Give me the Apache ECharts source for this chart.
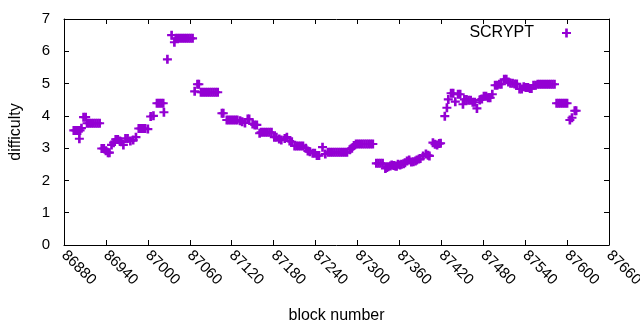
<!DOCTYPE html>
<html>
<head>
<meta charset="utf-8">
<script src="https://cdn.jsdelivr.net/npm/echarts@6/dist/echarts.min.js"></script>
<style>
  body { margin: 0; background: #fff; }
  #chart { width: 640px; height: 330px; }
</style>
</head>
<body>
<div id="chart"></div>
<script>
// block numbers and the difficulty read at each of them
const blocks = [
  86894, 86897, 86900, 86903, 86902, 86905, 86908, 86911,
  86913, 86916, 86919, 86922, 86925, 86928, 86931,
  86934, 86937, 86940, 86943, 86945, 86948, 86951, 86954, 86957,
  86960, 86962, 86965, 86968, 86971, 86975, 86979, 86983,
  86987, 86990, 86993, 86996, 87000, 87004, 87008,
  87013, 87016, 87019, 87022, 87023, 87028, 87034, 87038,
  87040, 87043, 87046, 87049, 87052, 87055, 87058, 87061, 87064,
  87067, 87071, 87073,
  87076, 87079, 87082, 87085, 87088, 87091, 87094, 87097, 87100,
  87106, 87108,
  87113, 87116, 87119, 87122, 87125, 87128, 87132, 87135, 87139,
  87143, 87145, 87150, 87153, 87156, 87160,
  87162, 87165, 87168, 87171, 87174, 87177,
  87181, 87184, 87188, 87191, 87196, 87199, 87203, 87206,
  87210, 87213, 87216, 87219, 87222, 87226, 87229, 87232,
  87236, 87239, 87242, 87245, 87250, 87254,
  87258, 87261, 87264, 87267, 87270, 87273, 87276, 87279, 87282, 87285,
  87289, 87292, 87295,
  87298, 87301, 87304, 87307, 87310, 87313, 87316, 87319, 87322,
  87327, 87330, 87333, 87336,
  87340, 87342, 87344, 87347, 87349, 87352, 87354, 87356, 87358, 87361,
  87363, 87366, 87368, 87371, 87374, 87377, 87380, 87383, 87385, 87388,
  87390, 87394, 87398, 87401, 87403,
  87408, 87411, 87414, 87417, 87419,
  87425, 87428, 87430, 87434, 87437, 87440, 87444, 87447, 87451,
  87453, 87456, 87459, 87462, 87465, 87468, 87471, 87475, 87478,
  87481, 87484, 87487, 87490, 87493,
  87497, 87500, 87503, 87506, 87510, 87513, 87516, 87519, 87522,
  87525, 87528, 87532, 87535, 87538, 87541, 87544, 87547, 87549,
  87552, 87555,
  87558, 87561, 87564, 87567, 87570, 87573, 87576, 87579, 87582,
  87585, 87588, 87591, 87594, 87597, 87600,
  87604, 87607, 87611, 87613
];
const difficulty = [
  3.55, 3.55, 3.55, 3.55, 3.29, 3.62, 3.96, 3.96,
  3.77, 3.77, 3.77, 3.77, 3.77, 3.77, 3.77,
  2.99, 2.99, 2.92, 2.86, 2.86, 3.10, 3.17, 3.27, 3.27,
  3.22, 3.20, 3.10, 3.30, 3.30, 3.22, 3.25, 3.34,
  3.61, 3.61, 3.61, 3.61, 3.59, 3.98, 4.00,
  4.39, 4.39, 4.39, 4.39, 4.11, 5.75, 6.50, 6.28,
  6.40, 6.40, 6.40, 6.40, 6.40, 6.40, 6.40, 6.40, 6.40,
  4.76, 4.98, 4.98,
  4.73, 4.73, 4.73, 4.73, 4.73, 4.73, 4.73, 4.73, 4.73,
  4.08, 4.08,
  3.87, 3.87, 3.87, 3.87, 3.87, 3.87, 3.85, 3.82, 3.78,
  3.90, 3.90, 3.75, 3.72, 3.72, 3.46,
  3.49, 3.49, 3.49, 3.49, 3.49, 3.49,
  3.34, 3.34, 3.28, 3.25, 3.30, 3.34, 3.22, 3.20,
  3.07, 3.07, 3.07, 3.07, 3.07, 3.00, 2.91, 2.89,
  2.84, 2.84, 2.77, 2.77, 3.03, 2.82,
  2.87, 2.87, 2.87, 2.87, 2.87, 2.87, 2.87, 2.87, 2.87, 2.87,
  2.95, 3.00, 3.08,
  3.13, 3.13, 3.13, 3.13, 3.13, 3.13, 3.13, 3.13, 3.13,
  2.53, 2.53, 2.53, 2.53,
  2.37, 2.40, 2.42, 2.45, 2.48, 2.46, 2.45, 2.44, 2.50, 2.48,
  2.50, 2.52, 2.55, 2.60, 2.63, 2.57, 2.58, 2.60, 2.63, 2.66,
  2.68, 2.76, 2.82, 2.78, 2.76,
  3.17, 3.12, 3.10, 3.14, 3.15,
  3.99, 4.25, 4.51, 4.70, 4.70, 4.44, 4.67, 4.67, 4.36,
  4.51, 4.51, 4.48, 4.48, 4.42, 4.42, 4.23, 4.49, 4.52,
  4.61, 4.61, 4.56, 4.56, 4.67,
  4.95, 4.95, 4.98, 4.98, 5.13, 5.13, 5.05, 5.01, 5.01,
  4.99, 4.99, 4.83, 4.83, 4.90, 4.88, 4.88, 4.85, 4.85,
  4.95, 4.95,
  4.98, 4.98, 4.98, 4.98, 4.98, 4.98, 4.98, 4.98, 4.98,
  4.39, 4.39, 4.39, 4.39, 4.39, 4.39,
  3.87, 3.94, 4.16, 4.16
];

const FONT = 'Liberation Sans';
const purple = '#9400d3';
// gnuplot style "+" point
const plus = 'path://M0,6.5H17V10.5H0Z M6,0H11V17H6Z';

const chart = echarts.init(document.getElementById('chart'), null, { renderer: 'canvas' });

const tickStyle = { show: true, inside: true, length: 5, lineStyle: { color: '#000', width: 1 } };

chart.setOption({
  animation: false,
  backgroundColor: '#fff',
  textStyle: { fontFamily: FONT },
  grid: { left: 64, right: 31, top: 19, bottom: 85, outerBoundsMode: 'none' },
  legend: {
    right: 64,
    top: 20,
    align: 'right',
    itemWidth: 9,
    itemHeight: 9,
    textStyle: { fontFamily: FONT, fontSize: 16, color: '#000', padding: [0, 23, 0, 0] },
    data: ['SCRYPT']
  },
  xAxis: [
    {
      type: 'value',
      min: 86880, max: 87660, interval: 60,
      name: 'block number',
      nameLocation: 'middle',
      nameGap: 63,
      nameTextStyle: { fontFamily: FONT, fontSize: 16, color: '#000' },
      axisLine: { show: true, lineStyle: { color: '#000', width: 1 } },
      axisTick: tickStyle,
      splitLine: { show: false },
      axisLabel: {
        rotate: -45, margin: 8, color: '#000', fontFamily: FONT, fontSize: 15,
        formatter: (v) => String(v)
      }
    },
    {
      type: 'value', position: 'top',
      min: 86880, max: 87660, interval: 60,
      axisLine: { show: true, onZero: false, lineStyle: { color: '#000', width: 1 } },
      axisTick: tickStyle,
      splitLine: { show: false },
      axisLabel: { show: false }
    }
  ],
  yAxis: [
    {
      type: 'value',
      min: 0, max: 7, interval: 1,
      name: 'difficulty',
      nameLocation: 'middle',
      nameGap: 40,
      nameTextStyle: { fontFamily: FONT, fontSize: 16, color: '#000' },
      axisLine: { show: true, lineStyle: { color: '#000', width: 1 } },
      axisTick: tickStyle,
      splitLine: { show: false },
      axisLabel: { margin: 14, color: '#000', fontFamily: FONT, fontSize: 15 }
    },
    {
      type: 'value', position: 'right',
      min: 0, max: 7, interval: 1,
      axisLine: { show: true, onZero: false, lineStyle: { color: '#000', width: 1 } },
      axisTick: tickStyle,
      splitLine: { show: false },
      axisLabel: { show: false }
    }
  ],
  series: [
    {
      name: 'SCRYPT',
      type: 'scatter',
      symbol: plus,
      symbolSize: 9,
      itemStyle: { color: purple, opacity: 1 },
      data: blocks.map((b, i) => [b, difficulty[i]])
    }
  ]
});
</script>
</body>
</html>
